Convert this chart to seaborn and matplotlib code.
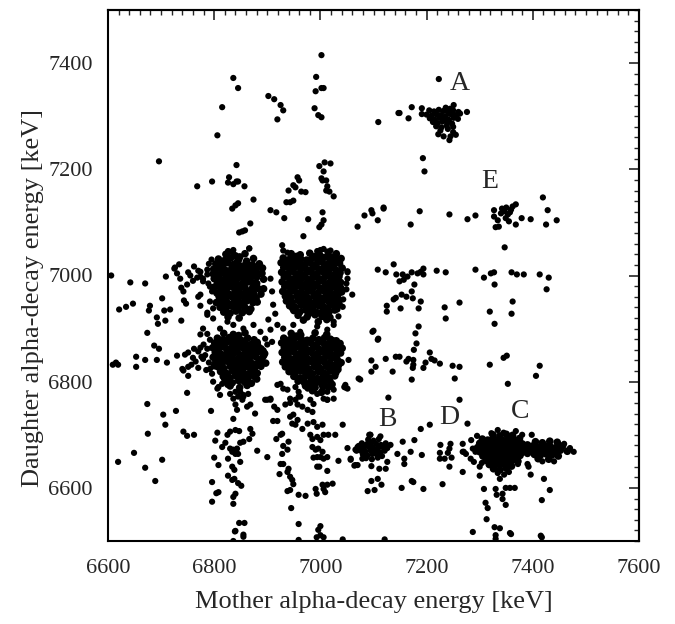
import matplotlib
matplotlib.use("Agg")
import matplotlib.pyplot as plt
from matplotlib.ticker import MultipleLocator
import seaborn as sns
import pandas as pd

# ==========================
# DATA (mother, daughter) in keV
# ==========================

blob_upper_left = [
    (6822, 7040), (6840, 7037), (6858, 7041),
    (6808, 7031), (6819, 7028), (6831, 7033), (6846, 7030), (6861, 7027), (6874, 7032),
    (6803, 7022), (6814, 7019), (6826, 7024), (6837, 7021), (6849, 7018), (6860, 7023), (6872, 7020), (6885, 7022),
    (6799, 7012), (6810, 7014), (6821, 7010), (6833, 7013), (6844, 7011), (6856, 7015), (6867, 7009), (6879, 7012), (6891, 7014),
    (6804, 7003), (6815, 7005), (6827, 7001), (6838, 7004), (6850, 7002), (6861, 7006), (6873, 7000), (6884, 7003),
    (6800, 6994), (6811, 6992), (6822, 6996), (6834, 6993), (6845, 6995), (6857, 6991), (6868, 6994), (6880, 6997), (6893, 6993),
    (6806, 6985), (6817, 6987), (6829, 6983), (6840, 6986), (6852, 6984), (6863, 6988), (6875, 6985),
    (6812, 6976), (6823, 6974), (6835, 6978), (6846, 6975), (6858, 6977), (6870, 6973), (6882, 6976),
    (6805, 6967), (6816, 6969), (6828, 6965), (6839, 6968), (6851, 6966), (6862, 6970), (6874, 6967), (6888, 6965),
    (6810, 6958), (6821, 6956), (6833, 6960), (6844, 6957), (6856, 6959), (6867, 6955), (6879, 6958),
    (6804, 6949), (6815, 6951), (6827, 6947), (6838, 6950), (6850, 6948), (6861, 6952), (6873, 6949),
    (6811, 6940), (6822, 6938), (6834, 6942), (6845, 6939), (6857, 6941), (6869, 6937),
    (6818, 6931), (6830, 6929), (6841, 6933), (6853, 6930), (6866, 6932),
    (6826, 6922), (6847, 6920),
    (6815, 7026), (6843, 7025), (6866, 7016), (6830, 7007), (6855, 6998), (6817, 6980), (6841, 6971),
    (6868, 6962), (6822, 6953), (6846, 6944), (6880, 6985), (6809, 6962), (6890, 7004), (6798, 7003),
    (6816, 7017), (6838, 7016), (6855, 7008), (6877, 7007), (6809, 6999), (6832, 6989), (6850, 6980),
    (6873, 6979), (6819, 6962), (6840, 6962), (6858, 6952), (6830, 6944), (6862, 6936), (6848, 7035),
    (6826, 6990), (6864, 6999), (6815, 6944), (6881, 6950), (6893, 6975), (6800, 6978),
]

blob_upper_right = [
    (6945, 7041), (6962, 7039), (6980, 7042), (6998, 7040), (7015, 7038), (7030, 7041),
    (6930, 7033), (6941, 7030), (6952, 7034), (6963, 7031), (6974, 7029), (6985, 7033), (6996, 7030), (7007, 7034), (7018, 7031), (7029, 7028), (7039, 7032),
    (6926, 7024), (6937, 7021), (6948, 7025), (6959, 7022), (6970, 7020), (6981, 7024), (6992, 7021), (7003, 7025), (7014, 7022), (7025, 7019), (7036, 7023),
    (6931, 7015), (6942, 7012), (6953, 7016), (6964, 7013), (6975, 7011), (6986, 7015), (6997, 7012), (7008, 7016), (7019, 7013), (7030, 7010), (7041, 7014),
    (6927, 7006), (6938, 7003), (6949, 7007), (6960, 7004), (6971, 7002), (6982, 7006), (6993, 7003), (7004, 7007), (7015, 7004), (7026, 7001), (7037, 7005),
    (6932, 6997), (6943, 6994), (6954, 6998), (6965, 6995), (6976, 6993), (6987, 6997), (6998, 6994), (7009, 6998), (7020, 6995), (7031, 6992),
    (6928, 6988), (6939, 6985), (6950, 6989), (6961, 6986), (6972, 6984), (6983, 6988), (6994, 6985), (7005, 6989), (7016, 6986), (7027, 6983), (7038, 6987),
    (6933, 6979), (6944, 6976), (6955, 6980), (6966, 6977), (6977, 6975), (6988, 6979), (6999, 6976), (7010, 6980), (7021, 6977), (7032, 6974),
    (6929, 6970), (6940, 6967), (6951, 6971), (6962, 6968), (6973, 6966), (6984, 6970), (6995, 6967), (7006, 6971), (7017, 6968), (7028, 6965), (7040, 6969),
    (6934, 6961), (6945, 6958), (6956, 6962), (6967, 6959), (6978, 6957), (6989, 6961), (7000, 6958), (7011, 6962), (7022, 6959), (7033, 6956),
    (6936, 6952), (6947, 6949), (6958, 6953), (6969, 6950), (6980, 6948), (6991, 6952), (7002, 6949), (7013, 6953), (7024, 6950), (7035, 6947),
    (6942, 6943), (6953, 6940), (6964, 6944), (6975, 6941), (6986, 6939), (6997, 6943), (7008, 6940), (7019, 6944), (7030, 6941),
    (6950, 6934), (6961, 6931), (6972, 6935), (6983, 6932), (6994, 6930), (7005, 6934), (7016, 6931), (7027, 6935),
    (6958, 6925), (6975, 6922), (6990, 6926), (7003, 6923), (7018, 6921),
    (6968, 6916), (6996, 6913), (7012, 6917),
    (6947, 7018), (6979, 7027), (7011, 7009), (6958, 6992), (6990, 6981), (7022, 6990), (6969, 6963),
    (7001, 6955), (7033, 6964), (6944, 6970), (6981, 6945), (7012, 6936), (6955, 7036), (7024, 7028),
    (6935, 7027), (6957, 7026), (6990, 7017), (7020, 7018), (6937, 7000), (6968, 6999), (6988, 7000),
    (7035, 6998), (6945, 6982), (6976, 6981), (7013, 6974), (6935, 6964), (6965, 6955), (6995, 6946),
    (7028, 6953), (6948, 6938), (6978, 6928), (7010, 6927), (7038, 6977), (6990, 7036),
]

blob_lower_left = [
    (6818, 6891), (6836, 6889), (6858, 6892),
    (6806, 6882), (6817, 6879), (6828, 6883), (6840, 6880), (6851, 6878), (6863, 6882), (6875, 6879),
    (6801, 6873), (6812, 6870), (6823, 6874), (6835, 6871), (6846, 6869), (6858, 6873), (6869, 6870), (6881, 6874),
    (6797, 6864), (6808, 6861), (6819, 6865), (6830, 6862), (6842, 6860), (6853, 6864), (6865, 6861), (6876, 6865), (6888, 6862),
    (6802, 6855), (6813, 6852), (6825, 6856), (6836, 6853), (6848, 6851), (6859, 6855), (6871, 6852), (6882, 6856), (6895, 6853),
    (6798, 6846), (6809, 6843), (6820, 6847), (6832, 6844), (6843, 6842), (6855, 6846), (6866, 6843), (6878, 6847), (6890, 6844),
    (6803, 6837), (6815, 6834), (6826, 6838), (6838, 6835), (6849, 6833), (6861, 6837), (6872, 6834), (6884, 6838), (6897, 6835),
    (6807, 6828), (6818, 6825), (6830, 6829), (6841, 6826), (6853, 6824), (6864, 6828), (6876, 6825), (6888, 6829),
    (6812, 6819), (6823, 6816), (6835, 6820), (6846, 6817), (6858, 6815), (6869, 6819), (6881, 6816),
    (6817, 6810), (6829, 6807), (6840, 6811), (6852, 6808), (6863, 6806), (6875, 6810),
    (6822, 6801), (6834, 6798), (6846, 6802), (6858, 6799), (6870, 6797),
    (6830, 6792), (6848, 6789), (6862, 6793),
    (6812, 6878), (6840, 6866), (6869, 6857), (6824, 6850), (6852, 6840), (6880, 6832), (6809, 6831),
    (6836, 6822), (6864, 6813), (6846, 6887), (6893, 6849), (6820, 6805), (6803, 6860), (6857, 6829),
    (6812, 6868), (6835, 6877), (6857, 6866), (6882, 6868), (6806, 6850), (6830, 6848), (6865, 6850),
    (6887, 6840), (6818, 6840), (6843, 6830), (6870, 6822), (6825, 6812), (6853, 6803), (6880, 6805),
    (6892, 6858), (6800, 6830),
]

blob_lower_right = [
    (6945, 6891), (6963, 6888), (6990, 6892), (7012, 6889),
    (6931, 6882), (6942, 6879), (6953, 6883), (6964, 6880), (6975, 6878), (6986, 6882), (6997, 6879), (7008, 6883), (7019, 6880), (7030, 6877),
    (6927, 6873), (6938, 6870), (6949, 6874), (6960, 6871), (6971, 6869), (6982, 6873), (6993, 6870), (7004, 6874), (7015, 6871), (7026, 6868), (7037, 6872),
    (6932, 6864), (6943, 6861), (6954, 6865), (6965, 6862), (6976, 6860), (6987, 6864), (6998, 6861), (7009, 6865), (7020, 6862), (7031, 6859), (7041, 6863),
    (6928, 6855), (6939, 6852), (6950, 6856), (6961, 6853), (6972, 6851), (6983, 6855), (6994, 6852), (7005, 6856), (7016, 6853), (7027, 6850), (7038, 6854),
    (6933, 6846), (6944, 6843), (6955, 6847), (6966, 6844), (6977, 6842), (6988, 6846), (6999, 6843), (7010, 6847), (7021, 6844), (7032, 6841),
    (6929, 6837), (6940, 6834), (6951, 6838), (6962, 6835), (6973, 6833), (6984, 6837), (6995, 6834), (7006, 6838), (7017, 6835), (7028, 6832), (7039, 6836),
    (6934, 6828), (6945, 6825), (6956, 6829), (6967, 6826), (6978, 6824), (6989, 6828), (7000, 6825), (7011, 6829), (7022, 6826), (7033, 6823),
    (6941, 6819), (6952, 6816), (6963, 6820), (6974, 6817), (6985, 6815), (6996, 6819), (7007, 6816), (7018, 6820), (7029, 6817),
    (6950, 6810), (6961, 6807), (6972, 6811), (6983, 6808), (6994, 6806), (7005, 6810), (7016, 6807), (7027, 6811),
    (6958, 6801), (6970, 6798), (6982, 6802), (6994, 6799), (7006, 6797), (7018, 6801),
    (6972, 6792), (6990, 6789), (7004, 6793), (7015, 6790),
    (6985, 6783), (7002, 6780),
    (6947, 6868), (6980, 6877), (7012, 6859), (6958, 6850), (6991, 6840), (7023, 6849), (6969, 6832),
    (7001, 6822), (7034, 6831), (6944, 6830), (6980, 6812), (7011, 6803), (6955, 6886), (7024, 6877),
    (6937, 6877), (6968, 6876), (6990, 6867), (7034, 6868), (6935, 6858), (6970, 6858), (7000, 6856),
    (7030, 6846), (6938, 6840), (6960, 6841), (6990, 6832), (7018, 6830), (6950, 6822), (6978, 6820),
    (7010, 6814), (6968, 6803), (7000, 6802), (7032, 6826), (6980, 6795), (7022, 6795),
]

core_c = [
    (7325, 6700), (7338, 6698), (7350, 6701), (7362, 6699),
    (7305, 6692), (7315, 6690), (7325, 6693), (7335, 6691), (7345, 6689), (7355, 6692), (7365, 6690), (7375, 6693),
    (7300, 6684), (7310, 6682), (7320, 6685), (7330, 6683), (7340, 6681), (7350, 6684), (7360, 6682), (7370, 6685), (7380, 6683), (7390, 6681),
    (7296, 6676), (7306, 6674), (7316, 6677), (7326, 6675), (7336, 6673), (7346, 6676), (7356, 6674), (7366, 6677), (7376, 6675), (7386, 6673),
    (7300, 6668), (7310, 6666), (7320, 6669), (7330, 6667), (7340, 6665), (7350, 6668), (7360, 6666), (7370, 6669), (7380, 6667), (7390, 6665),
    (7306, 6660), (7316, 6658), (7326, 6661), (7336, 6659), (7346, 6657), (7356, 6660), (7366, 6658), (7376, 6661),
    (7312, 6652), (7322, 6650), (7332, 6653), (7342, 6651), (7352, 6649), (7362, 6652), (7372, 6650),
    (7318, 6644), (7328, 6642), (7338, 6645), (7348, 6643), (7360, 6641),
    (7326, 6636), (7338, 6634), (7350, 6637),
    (7405, 6687), (7418, 6685), (7432, 6688), (7446, 6686),
    (7400, 6679), (7411, 6677), (7422, 6680), (7433, 6678), (7444, 6676), (7456, 6679),
    (7397, 6671), (7408, 6669), (7419, 6672), (7430, 6670), (7441, 6668), (7452, 6671), (7465, 6669),
    (7403, 6663), (7414, 6661), (7425, 6664), (7436, 6662), (7448, 6660),
    (7410, 6655), (7430, 6654),
]

blob_fringe = [
    (6866, 7051), (6928, 7057), (6930, 7047), (6938, 7043), (6994, 7046), (7013, 7045), (7023, 7036), (7028, 7032),
    (6826, 7046), (6836, 7048), (7000, 7048), (7006, 7050), (7019, 7047),
    (7051, 7008), (7051, 6994), (7060, 6964), (7049, 6974), (7043, 6955), (7042, 6941), (7032, 6936), (7034, 6923), (7025, 6913),
    (6906, 6994), (6909, 6970), (6911, 6945), (6902, 6917), (6915, 6928), (6919, 6907), (6906, 6898), (6896, 6881), (6909, 6875), (6900, 6870),
    (6798, 6919), (6811, 6900), (6825, 6913), (6836, 6907), (6855, 6900), (6874, 6907), (6887, 6894), (6930, 6900), (6949, 6907),
    (6962, 6894), (6994, 6904), (7013, 6898), (7025, 6907),
    (6774, 7007), (6779, 6994), (6787, 7002), (6774, 6964), (6792, 6951), (6798, 6938), (6787, 6926), (6779, 6900), (6774, 6889),
    (6787, 6862), (6779, 6843), (6792, 6824), (6798, 6800), (6806, 6787),
    (6811, 6775), (6836, 6768), (6855, 6772), (6900, 6766), (6906, 6768), (6943, 6768), (6962, 6772), (7006, 6768), (7013, 6766),
    (7025, 6768), (6849, 6781), (6864, 6777), (7047, 6794), (7051, 6787), (7072, 6806), (7053, 6841),
    (6808, 6790), (6815, 6796), (6825, 6794), (6830, 6777), (6840, 6781), (6845, 6772), (6855, 6775), (6853, 6766), (6840, 6757),
    (6862, 6753), (6868, 6757), (6877, 6740), (6836, 6730), (6843, 6747),
    (6919, 6794), (6925, 6796), (6930, 6787), (6938, 6785), (6953, 6790), (6959, 6781), (6976, 6787), (6987, 6794), (6994, 6777),
    (7004, 6787), (7013, 6781), (7025, 6785), (7013, 6766),
]

group_a = [
    (7223, 7370), (7149, 7306), (7166, 7296), (7172, 7317), (7191, 7315), (7191, 7304), (7276, 7308), (7251, 7321), (7260, 7308),
    (7205, 7311), (7214, 7309), (7223, 7312), (7232, 7310), (7241, 7308), (7250, 7311),
    (7200, 7303), (7209, 7301), (7218, 7304), (7227, 7302), (7236, 7300), (7245, 7304), (7254, 7302), (7263, 7305),
    (7206, 7296), (7215, 7294), (7224, 7297), (7233, 7295), (7242, 7293), (7251, 7297), (7259, 7295),
    (7212, 7289), (7221, 7287), (7230, 7290), (7239, 7288), (7248, 7286),
    (7218, 7281), (7228, 7279), (7238, 7282), (7250, 7280),
    (7226, 7273), (7240, 7276), (7250, 7270), (7232, 7262), (7245, 7262), (7222, 7266), (7243, 7255), (7255, 7265),
    (7236, 7316), (7244, 7314),
]

group_e = [
    (7327, 7123), (7327, 7111), (7342, 7126), (7346, 7121), (7353, 7115), (7359, 7124), (7362, 7130), (7368, 7134),
    (7349, 7108), (7355, 7102), (7330, 7091), (7336, 7092), (7368, 7096), (7379, 7108), (7396, 7106), (7419, 7147),
    (7428, 7123), (7425, 7096), (7445, 7104), (7347, 7053), (7340, 7117), (7350, 7128), (7357, 7119), (7334, 7104),
]

group_b = [
    (7090, 6691), (7100, 6689), (7110, 6692),
    (7078, 6684), (7087, 6682), (7096, 6685), (7105, 6683), (7114, 6681), (7123, 6684),
    (7072, 6677), (7081, 6675), (7090, 6678), (7099, 6676), (7108, 6674), (7117, 6677), (7126, 6675),
    (7076, 6670), (7085, 6668), (7094, 6671), (7103, 6669), (7112, 6667), (7121, 6670),
    (7080, 6663), (7089, 6661), (7098, 6664), (7107, 6662), (7116, 6660),
    (7086, 6656), (7097, 6654), (7108, 6657),
    (7092, 6700), (7113, 6697), (7132, 6681), (7070, 6677), (7066, 6672), (7057, 6655), (7066, 6643), (7079, 6655),
    (7096, 6641), (7111, 6636), (7123, 6636), (7126, 6649), (7096, 6613), (7108, 6617), (7115, 6606), (7089, 6594),
    (7102, 6596), (7145, 6664), (7155, 6687), (7158, 6655), (7158, 6645), (7170, 6668), (7177, 6690), (7172, 6613),
    (7175, 6611), (7189, 6711), (7206, 6719), (7191, 6662), (7194, 6598), (7153, 6600), (7051, 6675), (7057, 6653),
    (7068, 6670), (7072, 6679), (7064, 6642), (7070, 6643), (7094, 6700),
]

group_d = [
    (7226, 6681), (7225, 6666), (7240, 6666), (7245, 6683), (7243, 6674), (7225, 6655), (7234, 6655), (7247, 6657),
    (7243, 6640), (7230, 6607), (7277, 6721), (7268, 6683), (7270, 6668), (7268, 6630),
]

group_c = [
    (7334, 6709), (7345, 6704), (7368, 6707), (7268, 6668), (7274, 6664), (7287, 6674), (7292, 6668), (7306, 6689),
    (7308, 6681), (7477, 6668), (7470, 6675), (7283, 6655), (7289, 6649), (7304, 6647), (7300, 6623), (7330, 6598),
    (7349, 6600), (7357, 6600), (7366, 6600), (7343, 6589), (7343, 6579), (7332, 6587), (7349, 6568), (7308, 6598),
    (7311, 6572), (7315, 6562), (7313, 6541), (7328, 6526), (7338, 6524), (7330, 6511), (7330, 6504), (7359, 6513),
    (7287, 6517), (7417, 6577), (7432, 6596), (7421, 6617), (7417, 6507), (7338, 6617), (7346, 6625), (7334, 6628),
    (7355, 6630), (7392, 6640), (7398, 6700), (7380, 6700), (7322, 6703), (7390, 6645), (7440, 6650), (7418, 6650),
    (7396, 6625), (7300, 6640), (7295, 6698), (7284, 6690), (7459, 6683), (7372, 6645),
]

scatter_upper = [
    (7002, 7415), (6836, 7372), (6845, 7353), (6815, 7317), (6902, 7338), (6913, 7332), (6925, 7321), (6930, 7311),
    (6919, 7294), (6992, 7374), (6991, 7347), (7002, 7353), (7006, 7353), (6989, 7315), (6996, 7302), (7002, 7298),
    (7109, 7289), (7147, 7306), (6806, 7264), (6696, 7215), (6768, 7168), (6796, 7177), (6842, 7208), (6828, 7185),
    (6826, 7175), (6836, 7172), (6842, 7177), (6845, 7177), (6857, 7168), (6874, 7143), (6834, 7126), (6840, 7132),
    (6845, 7136), (6847, 7081), (6853, 7083), (6858, 7085), (6868, 7098), (6866, 7051), (6825, 7041), (6828, 7045),
    (6836, 7041), (6906, 7123), (6917, 7119), (6932, 7108), (6940, 7160), (6949, 7170), (6953, 7166), (6957, 7185),
    (6960, 7179), (6964, 7158), (6972, 7157), (6936, 7138), (6943, 7138), (6949, 7141), (6968, 7074), (6977, 7106),
    (6998, 7206), (7008, 7213), (7019, 7211), (7006, 7196), (7002, 7183), (7004, 7179), (7011, 7179), (7013, 7168),
    (7011, 7160), (7017, 7158), (7025, 7149), (7004, 7119), (7006, 7104), (7002, 7096), (6998, 7091), (7070, 7092),
    (7083, 7113), (7096, 7123), (7098, 7117), (7108, 7104), (7119, 7126), (7119, 7128), (7170, 7096), (7187, 7121),
    (7243, 7115), (7277, 7106), (7292, 7113), (7193, 7221), (7196, 7196),
]

scatter_middle = [
    (7108, 7011), (7123, 7006), (7138, 7021), (7143, 7002), (7155, 7002), (7164, 6998), (7172, 7006), (7183, 7004),
    (7189, 7007), (7194, 7013), (7194, 7002), (7149, 6989), (7157, 6992), (7177, 6983), (7153, 6964), (7162, 6960),
    (7172, 6970), (7174, 6957), (7138, 6955), (7142, 6958), (7189, 6951), (7125, 6943), (7125, 6932), (7151, 6938),
    (7185, 6938), (7219, 7009), (7236, 7006), (7292, 7011), (7308, 6996), (7321, 7004), (7327, 7006), (7328, 6983),
    (7360, 7006), (7370, 7002), (7383, 7002), (7413, 7002), (7430, 6996), (7426, 6974), (7234, 6940), (7236, 6919),
    (7262, 6949), (7319, 6932), (7328, 6909), (7362, 6951), (7360, 6928), (7098, 6894), (7109, 6881), (7185, 6904),
    (7179, 6891), (7181, 6872), (7176, 6860), (7096, 6840), (7104, 6828), (7096, 6819), (7123, 6843), (7136, 6819),
    (7142, 6847), (7149, 6847), (7162, 6838), (7166, 6843), (7175, 6841), (7175, 6832), (7174, 6826), (7194, 6826),
    (7198, 6836), (7206, 6855), (7209, 6843), (7215, 6840), (7225, 6834), (7172, 6804), (7249, 6830), (7262, 6828),
    (7253, 6806), (7319, 6832), (7345, 6845), (7351, 6849), (7413, 6830), (7406, 6811), (7075, 6804), (7128, 6770),
    (7100, 6896), (7108, 6879), (7051, 7006), (7049, 6985), (7047, 6789), (7262, 6766), (7353, 6796), (7045, 6790),
]

scatter_left = [
    (6606, 7000), (6642, 6987), (6670, 6985), (6621, 6936), (6634, 6941), (6647, 6947), (6679, 6943), (6677, 6934),
    (6702, 6957), (6692, 6921), (6708, 6915), (6706, 6934), (6717, 6936), (6694, 6909), (6738, 6915), (6709, 6998),
    (6725, 7013), (6674, 6892), (6609, 6832), (6619, 6832), (6615, 6836), (6653, 6847), (6653, 6828), (6670, 6841),
    (6687, 6868), (6696, 6862), (6692, 6841), (6711, 6836), (6730, 6849), (6745, 6851), (6751, 6855), (6740, 6824),
    (6742, 6821), (6751, 6828), (6751, 6811), (6749, 6779), (6674, 6758), (6704, 6738), (6708, 6719), (6728, 6745),
    (6675, 6702), (6649, 6666), (6619, 6649), (6670, 6638), (6702, 6653), (6689, 6613),
    (6726, 7015), (6734, 7021), (6730, 7004), (6736, 6994), (6751, 7006), (6749, 6983), (6738, 6977), (6742, 6970),
    (6770, 7009), (6774, 6998), (6779, 6989), (6787, 7011), (6789, 6985), (6792, 6979), (6768, 6996), (6796, 6970),
    (6743, 6953), (6747, 6947), (6770, 6960), (6774, 6943), (6787, 6930), (6787, 6890), (6792, 6879), (6774, 6864),
    (6770, 6857), (6776, 6847), (6760, 6845), (6765, 6838), (6783, 6850), (6790, 6836), (6757, 6832), (6770, 6826),
    (6785, 6822), (6796, 6815), (6762, 6862), (6780, 6870), (6755, 7000), (6760, 6990), (6790, 7022), (6795, 7030),
    (6762, 7017),
]

scatter_lower = [
    (6794, 6745), (6742, 6706), (6749, 6698), (6762, 6700), (6806, 6704), (6825, 6700), (6830, 6706), (6840, 6709),
    (6847, 6707), (6868, 6711), (6872, 6702), (6866, 6692), (6849, 6685), (6855, 6687), (6802, 6689), (6815, 6677),
    (6821, 6685), (6830, 6674), (6836, 6672), (6843, 6674), (6845, 6664), (6840, 6664), (6834, 6668), (6826, 6655),
    (6800, 6657), (6808, 6643), (6834, 6640), (6838, 6634), (6849, 6649), (6826, 6623), (6834, 6615), (6838, 6617),
    (6845, 6609), (6851, 6604), (6796, 6611), (6804, 6590), (6808, 6592), (6796, 6574), (6836, 6583), (6840, 6589),
    (6836, 6570), (6881, 6670), (6900, 6658), (6847, 6534), (6857, 6534), (6840, 6519), (6855, 6508), (6836, 6500),
    (6896, 6766), (6906, 6766), (6913, 6753), (6919, 6747), (6911, 6726), (6919, 6726), (6925, 6700), (6928, 6702),
    (6917, 6692), (6930, 6679), (6940, 6687), (6938, 6672), (6928, 6664), (6925, 6645), (6930, 6645), (6940, 6636),
    (6923, 6626), (6938, 6630), (6943, 6621), (6947, 6615), (6949, 6607), (6943, 6596), (6938, 6594), (6959, 6587),
    (6972, 6585), (6945, 6562),
    (6934, 6757), (6943, 6760), (6953, 6766), (6957, 6757), (6959, 6772), (6966, 6753), (6976, 6747), (6985, 6743),
    (6987, 6758), (6981, 6766), (6949, 6738), (6943, 6734), (6957, 6728), (6947, 6721), (6953, 6719), (6966, 6711),
    (6976, 6721), (6987, 6724), (6994, 6715), (7004, 6719), (6981, 6700), (6985, 6692), (6994, 6696), (7000, 6690),
    (7006, 6700), (7015, 6700), (7028, 6700), (7042, 6719), (6985, 6677), (6991, 6672), (6996, 6674), (7004, 6668),
    (7000, 6658), (6994, 6658), (7006, 6655), (7013, 6658), (6987, 6657), (6994, 6640), (6998, 6640), (7013, 6632),
    (7034, 6651), (7004, 6606), (7006, 6598), (7009, 6592), (7013, 6606), (7023, 6608), (6991, 6598), (6993, 6589),
    (6959, 6532), (6959, 6502), (6996, 6521), (7000, 6528), (6993, 6507), (7000, 6511), (7006, 6507), (7042, 6503),
    (7094, 6700), (6839, 6518), (6855, 6512), (7121, 6503), (7357, 6515), (7415, 6510),
]

label_names = ["A", "B", "C", "D", "E"]
label_x = [7262, 7126, 7377, 7242, 7319]
label_y = [7362, 6728, 6743, 6732, 7177]

# ==========================
# BUILD TABLES
# ==========================

dense_groups = [blob_upper_left, blob_upper_right, blob_lower_left, blob_lower_right, core_c]
sparse_groups = [blob_fringe, group_a, group_b, group_c, group_d, group_e,
                 scatter_upper, scatter_middle, scatter_left, scatter_lower]

dense_df = pd.DataFrame([p for g in dense_groups for p in g], columns=["mother", "daughter"])
sparse_df = pd.DataFrame([p for g in sparse_groups for p in g], columns=["mother", "daughter"])

# ==========================
# PLOT
# ==========================

sns.set_style("white")
plt.rcParams["font.family"] = ["Liberation Serif", "DejaVu Serif"]

fig = plt.figure(figsize=(6.75, 6.24), dpi=100)
ax = fig.add_axes([108 / 675, 83 / 624, 531 / 675, 531 / 624])

# the packed clusters overlap so much that they print as solid patches
sns.scatterplot(data=dense_df, x="mother", y="daughter", color="black",
                s=30, edgecolor="none", linewidth=0, ax=ax)
sns.scatterplot(data=sparse_df, x="mother", y="daughter", color="black",
                s=20, edgecolor="none", linewidth=0, ax=ax)

for name, lx, ly in zip(label_names, label_x, label_y):
    ax.text(lx, ly, name, fontsize=20, ha="center", va="center")

ax.set_xlim(6600, 7600)
ax.set_ylim(6500, 7500)
ax.set_xticks(range(6600, 7601, 200))
ax.set_yticks(range(6600, 7401, 200))
ax.xaxis.set_minor_locator(MultipleLocator(20))
ax.yaxis.set_minor_locator(MultipleLocator(20))

ax.tick_params(which="major", direction="out", length=7, width=1.2, labelsize=16)
ax.tick_params(which="minor", direction="out", length=3.5, width=1.0)
ax.tick_params(axis="x", pad=6)
ax.tick_params(axis="y", pad=4)

for spine in ax.spines.values():
    spine.set_linewidth(1.5)
    spine.set_color("black")

# inward ticks on the top and right frame
top = ax.secondary_xaxis("top")
top.set_xticks(range(6600, 7601, 200))
top.xaxis.set_minor_locator(MultipleLocator(20))
top.tick_params(which="major", direction="in", length=7, width=1.2, labeltop=False)
top.tick_params(which="minor", direction="in", length=3.5, width=1.0)
top.spines["top"].set_linewidth(1.5)

right = ax.secondary_yaxis("right")
right.set_yticks(range(6600, 7401, 200))
right.yaxis.set_minor_locator(MultipleLocator(20))
right.tick_params(which="major", direction="in", length=7, width=1.2, labelright=False)
right.tick_params(which="minor", direction="in", length=3.5, width=1.0)
right.spines["right"].set_linewidth(1.5)

ax.set_xlabel("Mother alpha-decay energy [keV]", fontsize=19)
ax.set_ylabel("Daughter alpha-decay energy [keV]", fontsize=19)
ax.xaxis.set_label_coords(0.5, -0.095)
ax.yaxis.set_label_coords(-0.121, 0.458)

fig.savefig("out.png", dpi=100)
